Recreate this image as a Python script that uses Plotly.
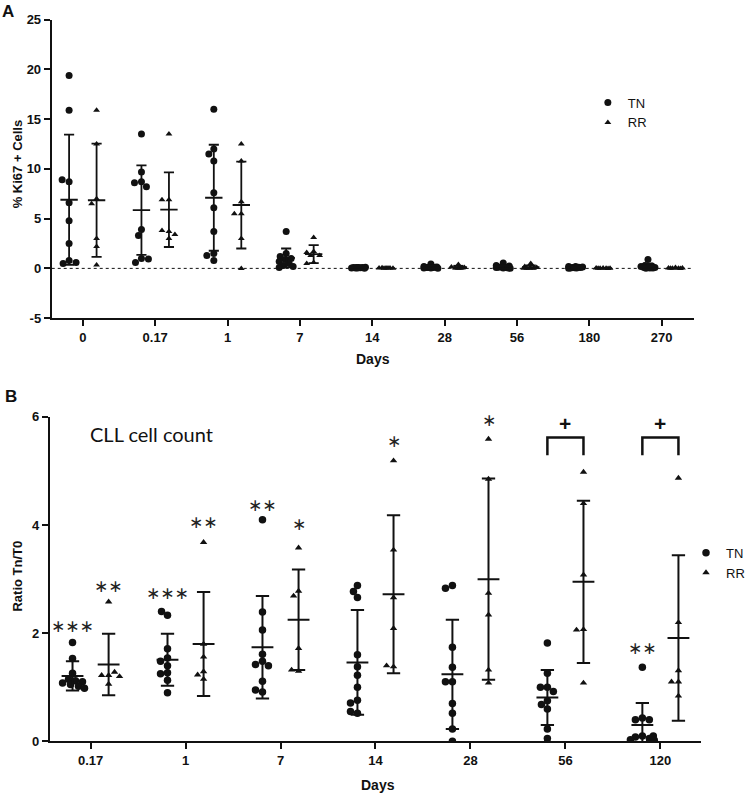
import math
import plotly.graph_objects as go

# ---------------- Panel A data: % Ki67+ cells ----------------
days_a = ['0', '0.17', '1', '7', '14', '28', '56', '180', '270']

ki67_tn = [
    [19.4, 15.9, 8.7, 8.9, 6.6, 4.8, 2.5, 0.8, 0.5, 0.6],
    [13.5, 9.7, 8.7, 8.6, 8.2, 3.9, 3.3, 1.0, 0.6, 0.95],
    [16.0, 12.0, 11.5, 10.8, 7.6, 6.1, 3.7, 1.5, 1.3, 0.8],
    [3.7, 1.5, 1.2, 1.0, 0.9, 0.7, 0.5, 0.3, 0.2, 0.1],
    [0.1, 0.05, 0.12, 0.08, 0.03, 0.1, 0.06, 0.02, 0.09, 0.04],
    [0.45, 0.2, 0.15, 0.1, 0.1, 0.05, 0.12, 0.08, 0.03, 0.02],
    [0.55, 0.3, 0.25, 0.15, 0.1, 0.12, 0.08, 0.05, 0.04, 0.02],
    [0.2, 0.18, 0.15, 0.1, 0.12, 0.08, 0.05, 0.06, 0.03, 0.02],
    [0.9, 0.3, 0.25, 0.2, 0.15, 0.1, 0.08, 0.05, 0.03, 0.02],
]
ki67_rr = [
    [15.9, 12.5, 7.0, 6.5, 3.0, 2.2, 0.35],
    [13.5, 6.9, 6.9, 3.7, 3.8, 3.0, 3.4],
    [12.5, 10.8, 6.7, 5.5, 5.5, 3.0, 0.0],
    [3.1, 1.7, 1.6, 1.3, 1.3, 0.6, 0.5],
    [0.05, 0.03, 0.02, 0.04, 0.06, 0.01, 0.03],
    [0.4, 0.15, 0.1, 0.05, 0.05, 0.02, 0.03],
    [0.5, 0.2, 0.1, 0.05, 0.03, 0.02, 0.01],
    [0.05, 0.03, 0.02, 0.02, 0.01, 0.01, 0.0],
    [0.08, 0.05, 0.03, 0.02, 0.02, 0.01, 0.0],
]
ki67_tn_mean = [6.9, 5.85, 7.1, 1.05, 0.08, 0.13, 0.17, 0.1, 0.2]
ki67_tn_sd = [6.55, 4.5, 5.33, 0.95, 0.04, 0.13, 0.16, 0.06, 0.27]
ki67_rr_mean = [6.85, 5.9, 6.37, 1.43, 0.03, 0.12, 0.13, 0.02, 0.03]
ki67_rr_sd = [5.7, 3.75, 4.37, 0.9, 0.02, 0.14, 0.18, 0.02, 0.03]

# ---------------- Panel B data: ratio Tn/T0 ----------------
days_b = ['0.17', '1', '7', '14', '28', '56', '120']

ratio_tn = [
    [1.83, 1.53, 1.26, 1.15, 1.12, 1.1, 1.08, 1.05, 1.02, 0.98],
    [2.33, 2.4, 1.71, 1.54, 1.48, 1.4, 1.27, 1.25, 1.13, 0.9],
    [4.1, 2.39, 2.06, 1.61, 1.48, 1.42, 1.4, 1.11, 0.91, 0.95],
    [2.88, 2.77, 2.66, 1.6, 1.38, 1.22, 1.0, 0.76, 0.71, 0.52, 0.55],
    [2.88, 2.83, 1.74, 1.37, 1.1, 1.1, 0.7, 0.52, 0.23, 0.0],
    [1.82, 1.26, 1.0, 1.0, 0.92, 0.75, 0.68, 0.6, 0.23, 0.05],
    [1.37, 0.43, 0.4, 0.4, 0.1, 0.08, 0.05, 0.03, 0.02, 0.1],
]
ratio_rr = [
    [2.58, 1.22, 1.22, 1.06, 1.28, 1.2],
    [3.68, 1.8, 1.56, 1.29, 1.23, 1.15],
    [3.58, 2.78, 2.69, 1.72, 1.3, 1.32],
    [5.19, 3.54, 2.66, 2.09, 1.38, 1.4],
    [5.59, 4.85, 2.74, 2.34, 1.32, 1.08],
    [4.98, 4.4, 3.08, 2.07, 2.06, 1.08],
    [4.87, 2.2, 1.31, 1.1, 1.1, 0.84],
]
ratio_tn_mean = [1.21, 1.51, 1.74, 1.46, 1.24, 0.81, 0.30]
ratio_tn_sd = [0.27, 0.48, 0.95, 0.97, 1.01, 0.51, 0.41]
ratio_rr_mean = [1.42, 1.80, 2.25, 2.72, 3.0, 2.95, 1.91]
ratio_rr_sd = [0.57, 0.96, 0.93, 1.46, 1.86, 1.5, 1.53]

# significance marks (day index, group, text, height)
sig_idx = [0, 0, 1, 1, 2, 2, 3, 4, 6]
sig_grp = ['TN', 'RR', 'TN', 'RR', 'TN', 'RR', 'RR', 'RR', 'TN']
sig_txt = ['∗∗∗', '∗∗', '∗∗∗', '∗∗', '∗∗', '∗', '∗', '∗', '∗∗']
sig_y = [2.13, 2.88, 2.74, 4.06, 4.38, 4.02, 5.55, 5.94, 1.72]

# TN vs RR brackets
bracket_idx = [5, 6]
bracket_y = [5.62, 5.62]

INK = '#111111'
FONT = 'Arial, Liberation Sans, sans-serif'
W, H = 750, 796


def px(x):
    return x / W


def py(y):
    # the captured page comes out slightly squeezed vertically, undo that
    return 1 - ((y - 6.3) / 0.983) / H


def swarm(vals, xc, xpx, ypx, d, maxw):
    # simple beeswarm so overlapping points spread sideways
    placed = []
    xs = []
    cands = sorted(range(-maxw, maxw + 1), key=lambda c: (abs(c), c))
    for v in vals:
        y = v * ypx
        best, bestd = 0, -1
        for c in cands:
            md = min([math.hypot(c - p, y - q) for p, q in placed], default=1e9)
            if md >= d:
                best = c
                break
            if md > bestd:
                bestd, best = md, c
        placed.append((best, y))
        xs.append(xc + best / xpx)
    return xs


def bars(centers, means, sds, mhalf, chalf):
    xs, ys = [], []
    for c, m, s in zip(centers, means, sds):
        xs += [c - mhalf, c + mhalf, None, c, c, None,
               c - chalf, c + chalf, None, c - chalf, c + chalf, None]
        ys += [m, m, None, m - s, m + s, None,
               m + s, m + s, None, m - s, m - s, None]
    return xs, ys


fig = go.Figure()

# ---------------- Panel A ----------------
off_a = 0.19
pxa_x, pxa_y = 72.75, 9.97
tn_x, tn_y, rr_x, rr_y = [], [], [], []
for i in range(len(days_a)):
    tn_x += swarm(ki67_tn[i], i - off_a, pxa_x, pxa_y, 6.5, 7)
    tn_y += ki67_tn[i]
    rr_x += swarm(ki67_rr[i], i + off_a, pxa_x, pxa_y, 6.5, 7)
    rr_y += ki67_rr[i]

fig.add_trace(go.Scatter(x=tn_x, y=tn_y, mode='markers', name='TN',
                         marker=dict(symbol='circle', size=7, color=INK),
                         xaxis='x', yaxis='y', legend='legend'))
fig.add_trace(go.Scatter(x=rr_x, y=rr_y, mode='markers', name='RR',
                         marker=dict(symbol='triangle-up', size=6, color=INK),
                         xaxis='x', yaxis='y', legend='legend'))
bx, by = bars([i - off_a for i in range(len(days_a))], ki67_tn_mean, ki67_tn_sd, 0.12, 0.07)
bx2, by2 = bars([i + off_a for i in range(len(days_a))], ki67_rr_mean, ki67_rr_sd, 0.12, 0.07)
fig.add_trace(go.Scatter(x=bx + bx2, y=by + by2, mode='lines', showlegend=False,
                         line=dict(color=INK, width=1.8), xaxis='x', yaxis='y',
                         hoverinfo='skip'))

# ---------------- Panel B ----------------
off_b = 0.19
pxb_x, pxb_y = 95.5, 54.2
tn_x, tn_y, rr_x, rr_y = [], [], [], []
for i in range(len(days_b)):
    tn_x += swarm(ratio_tn[i], i - off_b, pxb_x, pxb_y, 7, 12)
    tn_y += ratio_tn[i]
    rr_x += swarm(ratio_rr[i], i + off_b, pxb_x, pxb_y, 6.5, 12)
    rr_y += ratio_rr[i]

fig.add_trace(go.Scatter(x=tn_x, y=tn_y, mode='markers', name='TN',
                         marker=dict(symbol='circle', size=7.5, color=INK),
                         xaxis='x2', yaxis='y2', legend='legend2'))
fig.add_trace(go.Scatter(x=rr_x, y=rr_y, mode='markers', name='RR',
                         marker=dict(symbol='triangle-up', size=6.5, color=INK),
                         xaxis='x2', yaxis='y2', legend='legend2'))
bx, by = bars([i - off_b for i in range(len(days_b))], ratio_tn_mean, ratio_tn_sd, 0.115, 0.07)
bx2, by2 = bars([i + off_b for i in range(len(days_b))], ratio_rr_mean, ratio_rr_sd, 0.115, 0.07)
fig.add_trace(go.Scatter(x=bx + bx2, y=by + by2, mode='lines', showlegend=False,
                         line=dict(color=INK, width=2), xaxis='x2', yaxis='y2',
                         hoverinfo='skip'))

# brackets for TN vs RR
brx, bry = [], []
for i, yb in zip(bracket_idx, bracket_y):
    brx += [i - off_b, i - off_b, i + off_b, i + off_b, None]
    bry += [yb - 0.33, yb, yb, yb - 0.33, None]
fig.add_trace(go.Scatter(x=brx, y=bry, mode='lines', showlegend=False,
                         line=dict(color=INK, width=2.5), xaxis='x2', yaxis='y2',
                         hoverinfo='skip'))

annotations = []
for i, g, t, yv in zip(sig_idx, sig_grp, sig_txt, sig_y):
    xv = i - off_b if g == 'TN' else i + off_b
    annotations.append(dict(x=xv, y=yv, xref='x2', yref='y2', text=t, showarrow=False,
                            font=dict(family='DejaVu Sans, sans-serif', size=17, color='#222222'),
                            xanchor='center', yanchor='middle'))
for i, yb in zip(bracket_idx, bracket_y):
    annotations.append(dict(x=i, y=yb + 0.26, xref='x2', yref='y2', text='<b>+</b>',
                            showarrow=False, font=dict(family=FONT, size=21, color=INK),
                            xanchor='center', yanchor='middle'))

# labels
annotations += [
    dict(x=px(8), y=py(11), xref='paper', yref='paper', text='<b>A</b>',
         showarrow=False, font=dict(family=FONT, size=17, color=INK),
         xanchor='center', yanchor='middle'),
    dict(x=px(11), y=py(397), xref='paper', yref='paper', text='<b>B</b>',
         showarrow=False, font=dict(family=FONT, size=17, color=INK),
         xanchor='center', yanchor='middle'),
    dict(x=px(17), y=py(163), xref='paper', yref='paper', text='<b>% Ki67 + Cells</b>',
         showarrow=False, textangle=-90, font=dict(family=FONT, size=13, color=INK),
         xanchor='center', yanchor='middle'),
    dict(x=px(18), y=py(576), xref='paper', yref='paper', text='<b>Ratio Tn/T0</b>',
         showarrow=False, textangle=-90, font=dict(family=FONT, size=13, color=INK),
         xanchor='center', yanchor='middle'),
    dict(x=px(375), y=py(359), xref='paper', yref='paper', text='<b>Days</b>',
         showarrow=False, font=dict(family=FONT, size=14, color=INK),
         xanchor='center', yanchor='middle'),
    dict(x=px(380), y=py(786), xref='paper', yref='paper', text='<b>Days</b>',
         showarrow=False, font=dict(family=FONT, size=14, color=INK),
         xanchor='center', yanchor='middle'),
    dict(x=px(152), y=py(434), xref='paper', yref='paper', text='CLL cell count',
         showarrow=False, font=dict(family='Lato, sans-serif', size=20, color=INK),
         xanchor='center', yanchor='middle'),
]

axis_common = dict(showline=True, linecolor=INK, linewidth=2, ticks='outside',
                   ticklen=6, tickwidth=2, tickcolor=INK, showgrid=False, zeroline=False,
                   tickfont=dict(family=FONT, size=13, color=INK))

fig.update_layout(
    width=W, height=H,
    margin=dict(l=0, r=0, t=0, b=0),
    paper_bgcolor='white', plot_bgcolor='white',
    showlegend=True,
    xaxis=dict(axis_common, domain=[px(52), px(698)], range=[-0.43, 8.45],
               tickvals=list(range(len(days_a))),
               ticktext=['<b>%s</b>' % d for d in days_a], anchor='y'),
    yaxis=dict(axis_common, domain=[py(318), py(19)], range=[-5, 25],
               tickvals=[-5, 0, 5, 10, 15, 20, 25],
               ticktext=['<b>%d</b>' % v for v in [-5, 0, 5, 10, 15, 20, 25]], anchor='x'),
    xaxis2=dict(axis_common, domain=[px(50), px(705)], range=[-0.43, 6.43],
                tickvals=list(range(len(days_b))),
                ticktext=['<b>%s</b>' % d for d in days_b], anchor='y2'),
    yaxis2=dict(axis_common, domain=[py(742), py(417)], range=[0, 6],
                tickvals=[0, 2, 4, 6],
                ticktext=['<b>%d</b>' % v for v in [0, 2, 4, 6]], anchor='x2'),
    legend=dict(x=px(591), y=py(87), xanchor='left', yanchor='top',
                bgcolor='rgba(0,0,0,0)', itemwidth=30, tracegroupgap=0,
                font=dict(family=FONT, size=13, color=INK)),
    legend2=dict(x=px(690), y=py(538), xanchor='left', yanchor='top',
                 bgcolor='rgba(0,0,0,0)', itemwidth=30, tracegroupgap=0,
                 font=dict(family=FONT, size=13, color=INK)),
    annotations=annotations,
    shapes=[dict(type='line', xref='x', yref='y', x0=-0.43, x1=8.41, y0=0, y1=0,
                 line=dict(color=INK, width=1, dash='dot'), layer='below')],
)

fig.write_html("out.html", config={'displayModeBar': False},
               post_script="document.body.style.margin='0';")
